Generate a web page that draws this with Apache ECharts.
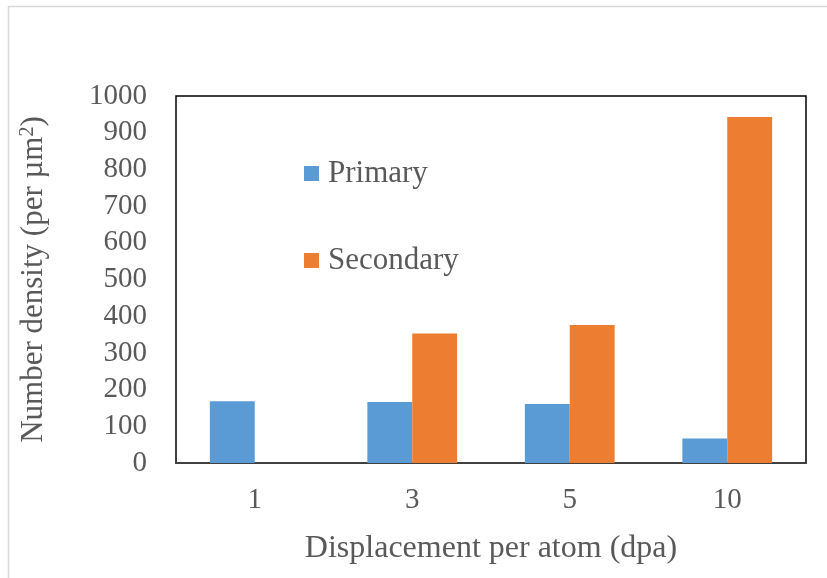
<!DOCTYPE html>
<html>
<head>
<meta charset="utf-8">
<script src="https://cdn.jsdelivr.net/npm/echarts@6/dist/echarts.min.js"></script>
<style>
  html, body { margin: 0; padding: 0; background: #fff; }
  #chart { width: 827px; height: 578px; }
</style>
</head>
<body>
<div id="chart"></div>
<script>
// Displacement levels (dpa) on the category axis
const categories = ['1', '3', '5', '10'];
// Number density of loops per µm²
const primaryValues = [168, 166, 161, 67];
const secondaryValues = [0, 353, 376, 943];
// Value axis ticks
const yTicks = [0, 100, 200, 300, 400, 500, 600, 700, 800, 900, 1000];

const FONT = '"Liberation Serif", "Times New Roman", serif';
const TEXT = '#595959';

const chart = echarts.init(document.getElementById('chart'), null, { renderer: 'canvas' });

chart.setOption({
  animation: false,
  backgroundColor: '#fff',
  graphic: [{
    type: 'polyline',
    shape: { points: [[8.5, 578], [8.5, 6.5], [827, 6.5]] },
    style: { stroke: '#d9d9d9', lineWidth: 1.5, fill: null },
    silent: true
  }],
  grid: {
    left: 176, right: 21, top: 96, bottom: 115,
    show: true, borderColor: '#000', borderWidth: 1.5, backgroundColor: 'transparent'
  },
  legend: {
    orient: 'vertical',
    left: 299, top: 153,
    itemWidth: 15, itemHeight: 15, itemGap: 56,
    icon: 'rect',
    textStyle: { fontFamily: FONT, fontSize: 31, color: TEXT, padding: [0, 0, 0, 4] },
    data: ['Primary', 'Secondary']
  },
  xAxis: {
    type: 'category',
    data: categories,
    axisLine: { show: true, lineStyle: { color: '#404040', width: 2 } },
    axisTick: { show: false },
    axisLabel: { fontFamily: FONT, fontSize: 29, color: TEXT, margin: 23 },
    name: 'Displacement per atom (dpa)',
    nameLocation: 'middle',
    nameGap: 70,
    nameTextStyle: { fontFamily: FONT, fontSize: 32, color: TEXT }
  },
  yAxis: {
    type: 'value',
    min: yTicks[0], max: yTicks[yTicks.length - 1], interval: yTicks[1] - yTicks[0],
    axisLine: { show: false },
    axisTick: { show: false },
    splitLine: { show: false },
    axisLabel: {
      fontFamily: FONT, fontSize: 29, color: TEXT, margin: 29,
      formatter: (v) => String(v)
    },
    name: '{t|Number density (per µm}{s|2}{t|)}',
    nameLocation: 'middle',
    nameGap: 126,
    nameRotate: 90,
    nameTextStyle: {
      fontFamily: FONT, fontSize: 31, color: TEXT,
      rich: {
        t: { fontFamily: FONT, fontSize: 31, color: TEXT },
        s: { fontFamily: FONT, fontSize: 20, color: TEXT, verticalAlign: 'top', padding: [0, 0, 12, 0] }
      }
    }
  },
  series: [
    {
      name: 'Primary', type: 'bar', data: primaryValues,
      barGap: '0%', barCategoryGap: '43%',
      itemStyle: { color: '#5b9bd5' }
    },
    {
      name: 'Secondary', type: 'bar', data: secondaryValues,
      barGap: '0%', barCategoryGap: '43%',
      itemStyle: { color: '#ed7d31' }
    }
  ]
});
</script>
</body>
</html>
